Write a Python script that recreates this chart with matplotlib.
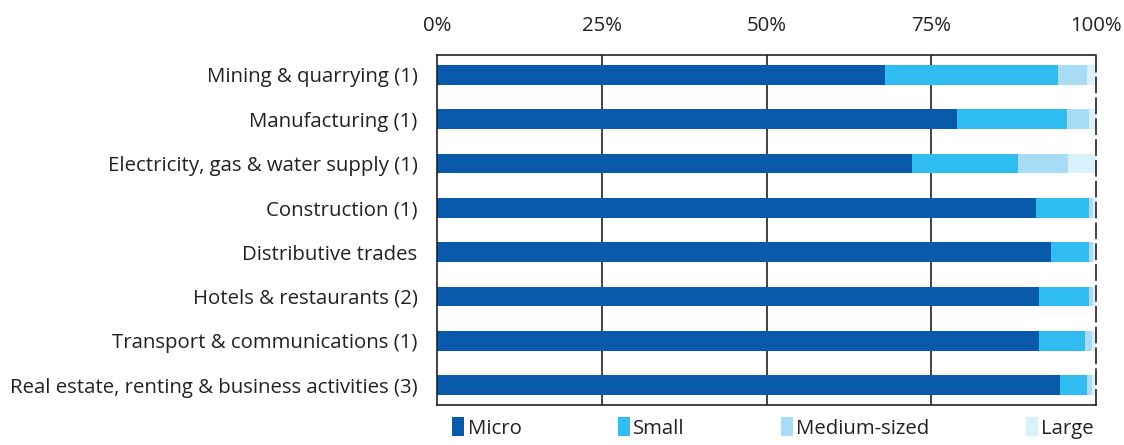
import matplotlib
matplotlib.use("Agg")
import matplotlib.pyplot as plt
import numpy as np

plt.rcParams['font.family'] = ['Open Sans', 'DejaVu Sans']

categories = [
    "Mining & quarrying (1)",
    "Manufacturing (1)",
    "Electricity, gas & water supply (1)",
    "Construction (1)",
    "Distributive trades",
    "Hotels & restaurants (2)",
    "Transport & communications (1)",
    "Real estate, renting & business activities (3)",
]
micro = [68.0, 78.9, 72.1, 90.9, 93.2, 91.4, 91.4, 94.5]
small = [26.2, 16.7, 16.1, 8.0, 5.7, 7.5, 6.9, 4.1]
medium = [4.4, 3.3, 7.6, 0.7, 0.7, 0.7, 1.1, 0.8]
large = [1.4, 1.1, 4.2, 0.4, 0.4, 0.4, 0.6, 0.6]
series_names = ["Micro", "Small", "Medium-sized", "Large"]
colors = ["#0a5aab", "#2fbdf2", "#a6dcf4", "#d8f1fb"]
xticks = [0, 25, 50, 75, 100]
xticklabels = ["0%", "25%", "50%", "75%", "100%"]

FS = 14.7
fig = plt.figure(figsize=(11.24, 4.45), dpi=100)
ax = fig.add_axes([437/1124, 1 - 405/445, (1096-437)/1124, (405-55)/445])

y = np.arange(len(categories))
left = np.zeros(len(categories))
for vals, name, c in zip([micro, small, medium, large], series_names, colors):
    ax.barh(y, vals, left=left, height=0.44, color=c, label=name, zorder=2)
    left += np.array(vals)

ax.set_xlim(0, 100)
ax.set_ylim(len(categories) - 0.55, -0.45)
ax.set_yticks(y)
ax.set_yticklabels(categories, fontsize=FS, color="#222222")
ax.tick_params(axis='y', length=0, pad=14)
ax.xaxis.tick_top()
ax.set_xticks(xticks)
ax.set_xticklabels(xticklabels, fontsize=FS, color="#222222")
ax.tick_params(axis='x', length=0, pad=14)

for xv in [25, 50, 75]:
    ax.axvline(xv, color="#222222", lw=1.2, zorder=1)
for s in ['left', 'top', 'bottom']:
    ax.spines[s].set_color("#222222")
    ax.spines[s].set_linewidth(1.2)
ax.spines['right'].set_linestyle((0, (9, 3.5)))
ax.spines['right'].set_color("#222222")
ax.spines['right'].set_linewidth(1.2)

leg = ax.legend(loc='upper left', bbox_to_anchor=(0.02, -0.088, 0.98, 0.06), ncol=4,
                mode='expand', frameon=False, fontsize=FS, handlelength=0.6,
                handleheight=1.1, handletextpad=0.15, borderaxespad=0, borderpad=0.1)
for t in leg.get_texts():
    t.set_color("#222222")

fig.savefig("out.png", dpi=100)
